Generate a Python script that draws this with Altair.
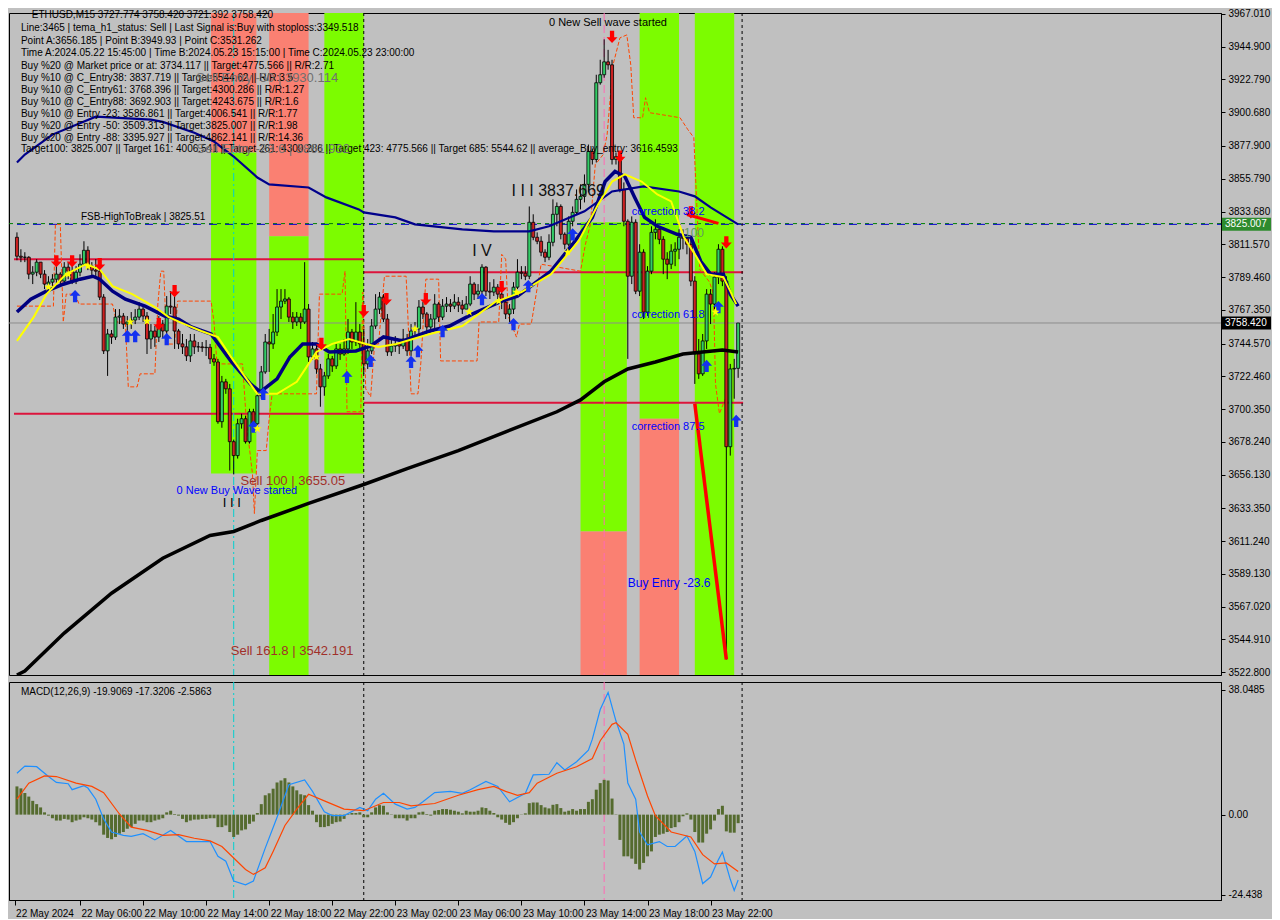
import altair as alt
import pandas as pd

FONT = "Liberation Sans"
BG = "#C0C0C0"
GREEN = "#7CFC00"
SALMON = "#FA8072"
BULL = "#33CC66"
BEAR = "#CC2222"

# ---------------- candle data (M15, bar index 0 = 22 May 02:00) ----------------
first_open = 3816.3
closes = [
    3803.5, 3802.8, 3802.8, 3791.4, 3792.7, 3799.5, 3791.4, 3784.7, 3786.0, 3788.0,
    3791.4, 3786.7, 3796.1, 3793.4, 3786.7, 3792.7, 3798.1, 3807.5, 3796.8, 3794.1,
    3793.4, 3775.9, 3739.6, 3751.0, 3748.9, 3762.4, 3763.1, 3757.7, 3759.1, 3760.4,
    3762.4, 3767.8, 3763.1, 3747.6, 3753.0, 3748.9, 3757.7, 3753.0, 3769.8, 3769.2,
    3753.0, 3744.3, 3742.3, 3736.2, 3746.3, 3742.3, 3742.3, 3741.8, 3742.0, 3734.2,
    3732.1, 3691.8, 3718.7, 3714.0, 3678.3, 3668.9, 3690.4, 3693.8, 3678.3, 3698.5,
    3690.4, 3709.3, 3725.4, 3745.6, 3744.3, 3752.3, 3769.2, 3773.2, 3774.6, 3762.4,
    3759.1, 3762.4, 3759.1, 3767.8, 3735.5, 3740.9, 3727.4, 3715.3, 3722.7, 3734.2,
    3729.4, 3740.9, 3737.5, 3740.9, 3752.3, 3745.6, 3752.3, 3744.3, 3730.8, 3739.6,
    3756.4, 3767.8, 3775.9, 3761.1, 3738.9, 3742.9, 3744.3, 3742.9, 3747.6, 3739.6,
    3753.0, 3754.4, 3769.2, 3764.5, 3755.7, 3761.1, 3771.2, 3762.4, 3769.8, 3771.2,
    3769.8, 3772.5, 3770.5, 3767.8, 3771.2, 3784.7, 3777.9, 3779.9, 3796.1, 3779.9,
    3779.3, 3782.6, 3777.9, 3772.5, 3764.5, 3767.8, 3782.6, 3792.7, 3792.0, 3790.0,
    3826.4, 3816.3, 3813.6, 3806.2, 3802.8, 3812.9, 3831.8, 3837.1, 3818.3, 3811.6,
    3827.1, 3833.1, 3841.9, 3843.9, 3852.0, 3874.2, 3868.8, 3920.6, 3926.0, 3934.7,
    3932.7, 3868.8, 3870.8, 3848.6, 3827.1, 3790.0, 3826.4, 3779.9, 3806.2, 3765.8,
    3793.4, 3819.6, 3821.7, 3814.9, 3801.5, 3798.1, 3806.9, 3808.2, 3816.3, 3815.6,
    3811.6, 3786.7, 3737.5, 3724.1, 3746.3, 3777.9, 3771.2, 3789.4, 3808.2, 3786.7,
    3674.9, 3727.4, 3727.8, 3758.4,
]
highs = [
    3819.6, 3808.2, 3806.2, 3803.5, 3796.8, 3801.5, 3799.5, 3794.1, 3790.0, 3791.4,
    3796.8, 3792.7, 3799.5, 3799.5, 3796.8, 3796.8, 3804.8, 3813.6, 3810.2, 3799.5,
    3801.5, 3794.8, 3777.9, 3754.4, 3753.7, 3767.8, 3767.8, 3765.1, 3763.1, 3765.8,
    3767.8, 3772.5, 3771.2, 3765.8, 3757.7, 3756.4, 3763.1, 3760.4, 3776.6, 3779.9,
    3777.9, 3754.4, 3751.0, 3747.6, 3751.0, 3751.0, 3745.6, 3745.6, 3746.9, 3744.3,
    3737.5, 3734.2, 3722.7, 3720.7, 3717.3, 3679.7, 3693.8, 3697.2, 3695.8, 3700.5,
    3700.5, 3714.0, 3729.4, 3751.0, 3754.4, 3764.5, 3781.3, 3781.3, 3781.3, 3775.9,
    3765.8, 3765.8, 3765.1, 3799.5, 3771.2, 3745.6, 3744.3, 3730.8, 3725.4, 3737.5,
    3736.2, 3744.3, 3744.3, 3747.6, 3761.1, 3754.4, 3772.5, 3757.7, 3754.4, 3747.6,
    3761.1, 3777.9, 3779.3, 3777.9, 3764.5, 3747.6, 3749.6, 3747.6, 3754.4, 3751.0,
    3757.7, 3759.1, 3773.9, 3772.5, 3765.8, 3764.5, 3777.9, 3772.5, 3774.6, 3775.9,
    3774.6, 3777.9, 3775.9, 3773.9, 3776.6, 3790.0, 3786.0, 3784.7, 3798.1, 3796.8,
    3786.0, 3788.0, 3784.7, 3779.3, 3773.9, 3771.2, 3786.0, 3801.5, 3796.8, 3796.8,
    3837.1, 3831.8, 3819.6, 3817.0, 3808.2, 3818.3, 3841.9, 3839.8, 3838.5, 3819.6,
    3830.4, 3837.1, 3848.6, 3852.0, 3858.7, 3878.9, 3876.2, 3926.0, 3936.1, 3949.9,
    3942.8, 3936.1, 3873.5, 3865.4, 3853.3, 3828.4, 3830.4, 3828.4, 3811.6, 3808.2,
    3796.8, 3823.7, 3828.4, 3823.7, 3817.0, 3806.2, 3811.6, 3812.9, 3821.7, 3821.7,
    3818.3, 3814.3, 3790.0, 3747.6, 3751.0, 3781.3, 3781.3, 3792.7, 3811.6, 3810.2,
    3790.0, 3730.8, 3734.2, 3758.4,
]
lows = [
    3800.8, 3799.5, 3799.5, 3788.0, 3784.7, 3790.0, 3788.7, 3781.3, 3782.6, 3783.3,
    3783.3, 3783.3, 3784.7, 3788.0, 3784.7, 3784.7, 3790.0, 3796.8, 3794.1, 3790.0,
    3788.7, 3773.9, 3737.5, 3722.7, 3744.3, 3747.0, 3757.7, 3754.4, 3752.3, 3754.4,
    3757.7, 3760.4, 3759.1, 3737.5, 3740.9, 3742.3, 3745.6, 3748.3, 3751.0, 3764.5,
    3740.9, 3740.9, 3737.5, 3732.8, 3732.1, 3737.5, 3738.9, 3738.9, 3736.2, 3730.8,
    3729.5, 3690.4, 3687.7, 3710.6, 3658.8, 3656.2, 3666.9, 3687.1, 3677.0, 3677.0,
    3687.1, 3689.1, 3707.3, 3724.1, 3725.4, 3740.9, 3749.6, 3761.1, 3771.2, 3759.1,
    3754.4, 3756.4, 3754.4, 3757.7, 3732.1, 3733.5, 3724.1, 3701.9, 3709.3, 3720.7,
    3725.4, 3727.4, 3733.5, 3736.2, 3737.5, 3740.9, 3742.9, 3740.9, 3724.1, 3727.4,
    3737.5, 3754.4, 3764.5, 3759.1, 3736.2, 3736.2, 3738.9, 3737.5, 3740.9, 3736.2,
    3736.2, 3747.6, 3751.0, 3761.1, 3752.3, 3751.0, 3754.4, 3759.1, 3760.4, 3765.8,
    3765.8, 3767.8, 3765.8, 3764.5, 3767.8, 3769.8, 3773.9, 3774.6, 3777.9, 3776.6,
    3774.6, 3776.6, 3774.6, 3767.8, 3761.1, 3759.1, 3764.5, 3781.3, 3788.0, 3787.3,
    3788.0, 3814.3, 3811.6, 3803.5, 3799.5, 3800.8, 3810.2, 3823.7, 3814.9, 3808.2,
    3810.2, 3823.7, 3831.8, 3835.1, 3839.8, 3846.6, 3865.4, 3866.8, 3919.3, 3924.0,
    3929.4, 3865.4, 3865.4, 3846.6, 3823.7, 3734.2, 3784.7, 3777.9, 3776.6, 3761.1,
    3763.1, 3791.4, 3814.9, 3811.6, 3791.4, 3788.0, 3794.8, 3796.8, 3801.5, 3808.2,
    3804.8, 3783.3, 3717.3, 3720.7, 3722.7, 3740.9, 3757.7, 3767.8, 3784.7, 3783.3,
    3531.3, 3668.9, 3707.3, 3721.4,
]

# ---------------- moving averages / indicator lines (bar index, price) ----------------
navy_fast_x = [0, 3.5, 7.5, 11.75, 16, 19.25, 21, 24.25, 27.5, 32.5, 37.5, 41, 44.25, 49.25, 54.25,
               59.25, 61.75, 66, 69.25, 72.5, 76, 79.25, 86, 89.75, 93, 98, 104.75, 109.75, 115.5,
               123, 127, 135.5, 141, 146, 149.25, 151.75, 154.25, 156.75, 159.25, 162.5, 167.5,
               171, 173.5, 176, 179.25, 181, 183]
navy_fast_p = [3765.8, 3774.5, 3779.9, 3784.6, 3788.0, 3790.0, 3788.0, 3779.9, 3774.5, 3769.8,
               3763.1, 3761.1, 3755.7, 3751.0, 3732.8, 3717.3, 3711.9, 3720.7, 3735.5, 3744.3,
               3744.3, 3738.9, 3739.5, 3742.9, 3749.0, 3746.3, 3753.0, 3756.4, 3764.4, 3773.2,
               3776.6, 3793.4, 3811.6, 3829.7, 3853.9, 3860.7, 3857.3, 3843.2, 3829.7, 3823.7,
               3818.3, 3816.3, 3800.1, 3791.4, 3791.4, 3777.9, 3769.8]

navy_slow_x = [0, 2, 9, 20, 34, 37, 45, 50, 55, 61, 64, 74, 78.5, 86.75, 88, 96, 101, 113, 121,
               130, 135, 144, 151, 159, 168, 172, 176, 183]
navy_slow_p = [3866.7, 3872.1, 3885.6, 3897.7, 3895.7, 3894.2, 3886.9, 3880.9, 3870.8, 3856.6,
               3852.0, 3849.9, 3843.2, 3835.1, 3833.1, 3829.7, 3825.0, 3821.6, 3820.3, 3820.3,
               3823.7, 3833.8, 3847.2, 3850.6, 3847.2, 3843.9, 3836.5, 3825.0]

ma200_x = [0, 2, 12, 24, 37, 49, 55, 62, 74, 88, 99, 112, 124, 137, 143, 149, 155, 162, 169,
           174, 179, 183]
ma200_p = [3520.8, 3523.5, 3549.1, 3576.0, 3599.6, 3615.0, 3617.7, 3625.1, 3636.6, 3649.4,
           3660.1, 3672.2, 3685.0, 3698.5, 3706.5, 3718.7, 3727.4, 3732.1, 3737.5, 3738.9,
           3740.2, 3738.9]

yellow_x = [0, 4.25, 7.5, 12.5, 17.5, 21, 24.25, 29.25, 35, 38.5, 42.5, 46.75, 51, 55, 61, 66,
            71, 73.5, 76, 80, 84.25, 88.5, 91.75, 96.25, 104.75, 113, 121.25, 128, 135.5, 142.5,
            147.5, 151, 154.25, 158.5, 162.5, 166, 169.25, 172.5, 175, 179.25, 181, 182.5]
yellow_p = [3746.3, 3762.4, 3777.9, 3791.4, 3798.1, 3794.7, 3783.3, 3777.9, 3769.2, 3762.4,
            3757.7, 3753.0, 3748.9, 3732.8, 3710.6, 3710.6, 3718.7, 3728.8, 3738.9, 3744.3,
            3747.6, 3744.3, 3742.2, 3744.3, 3751.0, 3756.4, 3772.5, 3779.2, 3791.4, 3813.6,
            3838.5, 3853.9, 3858.7, 3853.9, 3845.2, 3840.5, 3816.3, 3802.8, 3791.4, 3789.3,
            3779.9, 3771.2]

orange_x = [0, 9.25, 9.75, 11, 11.75, 12.5, 14.75, 15.75, 24.25, 25.25, 27.5, 28.25, 30.5, 31.25,
            35, 35.75, 36.5, 37.25, 38, 40, 40.75, 49.25, 50, 50.75, 57.25, 58.25, 59.75, 60.25,
            61, 63.25, 64, 64.75, 76, 76.75, 82.5, 83.25, 83.75, 87.25, 87.75, 88.5, 89.75,
            90.75, 91.75, 93.25, 98.75, 99.5, 100, 101.75, 102.5, 103.75, 107, 107.5, 116.75,
            117.25, 122.25, 123, 124, 124.75, 126.75, 127.5, 130.5, 133, 143, 144.25, 145.5,
            146.75, 148.75, 149.75, 151.25, 153, 154.75, 155.75, 156.5, 158.75, 159.5, 160.5,
            168.25, 170.25, 171.75, 172.5, 173.25, 175.75, 176.75, 177.25, 178.25, 179.75]
orange_p = [3769.8, 3769.8, 3825.0, 3825.0, 3759.1, 3777.9, 3777.9, 3771.2, 3771.2, 3759.1,
            3759.1, 3715.3, 3715.3, 3724.1, 3724.1, 3771.2, 3793.4, 3793.4, 3744.2, 3744.2,
            3773.2, 3773.2, 3759.1, 3730.8, 3730.8, 3690.4, 3656.8, 3629.8, 3672.3, 3672.3,
            3693.8, 3710.6, 3710.6, 3777.9, 3777.9, 3793.4, 3698.5, 3698.5, 3779.2, 3714.0,
            3708.6, 3744.2, 3744.2, 3790.0, 3790.0, 3744.2, 3710.6, 3710.6, 3732.1, 3788.0,
            3788.0, 3732.8, 3732.8, 3759.1, 3759.1, 3804.8, 3801.5, 3762.4, 3748.9, 3757.7,
            3757.7, 3798.1, 3793.4, 3811.6, 3825.0, 3865.4, 3872.1, 3885.6, 3932.7, 3950.9,
            3952.9, 3932.7, 3897.0, 3897.0, 3910.5, 3900.4, 3897.0, 3888.9, 3883.6, 3838.5,
            3794.7, 3786.0, 3777.9, 3717.3, 3697.2, 3707.2]

# red wave line and red correction segment
wave_x = [172, 180]
wave_p = [3703.9, 3531.3]
corr_x = [170, 178]
corr_p = [3831.7, 3825.7]

# ---------------- bands, levels, markers ----------------
band_x0 = [49.25, 49.25, 64, 64, 78, 143, 143, 158, 158, 172]
band_x1 = [60.75, 60.75, 74, 74, 88, 154.75, 154.75, 168, 168, 182]
band_top = [3967.68, 3873.5, 3967.68, 3816.9, 3967.68, 3826.4, 3617.7, 3967.68, 3693.8, 3967.68]
band_bot = [3873.5, 3656.8, 3816.9, 3520.8, 3656.8, 3617.7, 3520.8, 3693.8, 3520.8, 3520.8]
band_col = [SALMON, GREEN, SALMON, GREEN, GREEN, GREEN, SALMON, GREEN, SALMON, GREEN]

level_x0 = [-0.75, -0.75, 88, 88]
level_x1 = [88, 88, 184.25, 184.25]
level_p = [3801.5, 3697.1, 3792.7, 3704.5]

current_price = 3758.42
fsb_level = 3825.51
target_level = 3825.007

separators = [88, 184]
time_a = [55]
time_b = [149]

down_x = [10, 14, 21, 36, 40, 77.25, 88, 93.75, 103.75, 123, 151, 153, 171, 180]
down_p = [3800.1, 3800.1, 3798.1, 3757.7, 3779.9, 3744.3, 3766.5, 3774.5, 3774.5, 3782.6,
          3951.5, 3870.8, 3833.1, 3812.9]
up_x = [14.75, 28, 30, 38, 60, 62.5, 83.75, 89.75, 100, 101.75, 108, 118, 126, 129.75, 141,
        175, 178, 182.5]
up_p = [3776.6, 3749.6, 3749.6, 3747.6, 3688.4, 3710.6, 3722.0, 3732.8, 3732.1, 3739.5,
        3753.0, 3774.5, 3757.7, 3783.3, 3818.3, 3729.4, 3769.2, 3692.4]
star_x = [8, 13, 18, 28.75, 33, 61, 76, 101, 114.75, 122.25, 126.75, 139.75, 177.25]
star_p = [3782.6, 3791.4, 3796.8, 3759.1, 3759.7, 3687.0, 3735.5, 3754.3, 3765.8, 3773.2,
          3779.2, 3806.2, 3765.8]

# ---------------- texts ----------------
info_lines = [
    "ETHUSD,M15  3727.774 3758.420 3721.392 3758.420",
    "Line:3465 | tema_h1_status: Sell | Last Signal is:Buy with stoploss:3349.518",
    "Point A:3656.185 | Point B:3949.93 | Point C:3531.262",
    "Time A:2024.05.22 15:45:00 | Time B:2024.05.23 15:15:00 | Time C:2024.05.23 23:00:00",
    "Buy %20 @ Market price or at: 3734.117 || Target:4775.566 || R/R:2.71",
    "Buy %10 @ C_Entry38: 3837.719 || Target:5544.62 || R/R:3.5",
    "Buy %10 @ C_Entry61: 3768.396 || Target:4300.286 || R/R:1.27",
    "Buy %10 @ C_Entry88: 3692.903 || Target:4243.675 || R/R:1.6",
    "Buy %10 @ Entry -23: 3586.861 || Target:4006.541 || R/R:1.77",
    "Buy %20 @ Entry -50: 3509.313 || Target:3825.007 || R/R:1.98",
    "Buy %20 @ Entry -88: 3395.927 || Target:4862.141 || R/R:14.36",
    "Target100: 3825.007 || Target 161: 4006.541 || Target 261: 4300.286 || Target 423: 4775.566 || Target 685: 5544.62 || average_Buy_entry: 3616.4593",
]
info_x = [3.75, 1, 1, 1, 1, 1, 1, 1, 1, 1, 1, 1]
info_p = [3966.2, 3957.5, 3948.7, 3940.6, 3931.9, 3923.8, 3915.7, 3907.7, 3899.6, 3891.5,
          3883.4, 3876.0]

gray_texts = ["Sell Entry -50 | 3930.114", "Sell Entry -23.6 | 3861.932"]
gray_x = [45.5, 45.5]
gray_p = [3923.8, 3876.0]

plain_texts = ["FSB-HighToBreak | 3825.51", "0 New Sell wave started", "I  I  I"]
plain_x = [16.25, 135, 52.25]
plain_p = [3829.7, 3961.0, 3637.2]
plain_size = [10, 11, 13]

wave_texts = ["I I I  3837.669", "I V"]
wave_tx = [125.5, 115.5]
wave_tp = [3847.2, 3806.8]

blue_texts = ["correction 38.2", "correction 61.8", "correction 87.5", "Buy Entry -23.6",
              "0 New Buy Wave started"]
blue_x = [156, 156, 156, 155, 40.5]
blue_p = [3833.1, 3763.8, 3688.4, 3582.7, 3645.3]
blue_size = [11, 11, 11, 12, 11]

brown_texts = ["Sell 100 | 3655.05", "Sell 161.8 | 3542.191"]
brown_x = [56.75, 54.25]
brown_p = [3652.0, 3537.0]

price_ticks = [3967.010, 3944.900, 3922.790, 3900.680, 3877.900, 3855.790, 3833.680, 3811.570,
               3789.460, 3767.350, 3744.570, 3722.460, 3700.350, 3678.240, 3656.130, 3633.350,
               3611.240, 3589.130, 3567.020, 3544.910, 3522.800]
box_prices = [3825.007, 3758.420]
box_labels = ["3825.007", "3758.420"]
box_colors = ["#2E8B2E", "#000000"]

# ---------------- MACD ----------------
macd_hist = [
    8.6, 8.0, 6.6, 5.5, 4.2, 3.2, 2.2, 0.7, -0.3, -1.1,
    -1.8, -1.8, -1.3, -1.5, -2.3, -1.8, -1.5, -0.8, -1.1, -1.5,
    -2.3, -3.3, -6.1, -7.1, -7.5, -6.8, -5.8, -5.3, -4.3, -3.8,
    -2.8, -1.8, -1.8, -2.3, -2.3, -1.8, -1.5, -1.1, 0.7, 1.2,
    0.2, -0.3, -1.3, -2.3, -1.8, -1.5, -1.5, -1.3, -1.3, -1.1,
    -1.1, -3.8, -3.8, -3.3, -5.3, -6.8, -6.1, -4.8, -4.5, -2.8,
    -2.1, 0.5, 3.2, 5.9, 6.5, 7.9, 9.8, 10.4, 11.1, 9.8,
    8.6, 7.4, 6.2, 5.9, 2.9, 1.2, -2.3, -3.8, -3.8, -3.5,
    -2.8, -2.3, -2.1, -1.3, 0.2, 0.5, 0.5, 0.7, -0.8, -0.8,
    0.7, 2.2, 2.9, 2.7, 0.7, -0.1, -1.1, -1.1, -1.1, -1.8,
    -1.1, -1.1, 0.7, 0.9, 0.2, -0.3, 1.2, 1.4, 1.7, 1.7,
    1.5, 1.2, 0.9, 0.4, 1.2, 0.9, 0.9, 1.2, 2.2, 2.0,
    1.2, 0.5, -0.8, -1.5, -2.5, -3.1, -2.3, -1.1, -0.1, 0.4,
    3.5, 3.7, 3.7, 2.9, 2.2, 1.9, 3.0, 3.2, 2.0, 0.9,
    1.2, 1.7, 1.2, 1.7, 1.7, 3.9, 4.7, 7.6, 9.6, 10.6,
    10.4, 4.9, -0.1, -7.7, -12.7, -12.7, -13.4, -15.0, -16.7, -14.7,
    -12.7, -11.2, -6.8, -6.1, -5.8, -5.3, -4.1, -3.8, -2.3, -0.5,
    0.4, -1.5, -5.3, -8.5, -8.5, -5.8, -4.5, -1.8, 1.7, 2.7,
    -5.1, -5.5, -5.5, -2.6,
]
macd_x = [0, 2, 5, 8, 10, 13, 14, 17, 18, 20, 22, 24, 27, 29, 32, 35, 39, 43, 49, 51, 53, 55,
          58, 60, 63, 66, 69, 73, 75, 78, 80, 83, 87, 89, 91, 93, 96, 99, 101, 103, 106, 110,
          113, 115, 119, 122, 125, 129, 131, 135, 137, 139, 142, 145, 146, 148, 150, 152, 154,
          155, 157, 158, 160, 163, 165, 167, 170, 172, 174, 176, 178, 179, 181, 182, 183]
macd_v = [12.6, 14.8, 14.6, 11.6, 9.8, 9.4, 7.6, 8.8, 8.1, 4.7, -1.3, -5.3, -6.3, -6.6, -5.8,
          -7.7, -4.8, -8.2, -8.2, -12.7, -14.2, -20.2, -21.4, -20.2, -10.2, -0.8, 9.1, 10.6,
          7.1, 0.9, -0.3, -0.3, 2.2, 1.2, 4.7, 6.5, 3.2, 1.7, 2.2, 3.9, 6.7, 7.1, 6.5, 7.6,
          10.1, 8.6, 3.9, 6.5, 12.1, 12.3, 15.8, 13.6, 16.1, 19.6, 23.0, 32.0, 37.2, 28.5,
          21.5, 9.6, 4.7, -5.3, -9.2, -8.2, -9.7, -9.7, -6.5, -11.2, -21.0, -19.0, -13.7,
          -11.4, -19.7, -23.1, -19.9]
signal_x = [0, 3, 7, 10, 15, 19, 22, 26, 29, 33, 37, 41, 45, 49, 52, 55, 58, 60, 63, 65, 68,
            71, 74, 78, 83, 88, 93, 97, 100, 106, 112, 117, 121, 124, 127, 130, 132, 137, 142,
            146, 148, 151, 152, 155, 157, 160, 162, 166, 171, 174, 177, 180, 183]
signal_v = [4.7, 9.6, 11.8, 11.6, 9.6, 8.6, 6.7, 0.2, -3.8, -4.8, -6.3, -6.1, -7.2, -8.0, -9.7,
            -13.2, -16.7, -18.2, -16.2, -11.2, -3.3, 1.7, 6.2, 4.2, 1.7, 1.2, 3.7, 3.7, 2.7,
            3.4, 5.9, 7.6, 8.6, 7.1, 5.9, 6.7, 9.6, 12.6, 14.6, 17.1, 22.5, 27.5, 28.0, 24.5,
            16.6, 5.7, -0.3, -5.3, -6.8, -12.2, -15.0, -14.7, -17.3]
macd_title = "MACD(12,26,9) -19.9069 -17.3206 -2.5863"
macd_ticks = [38.0485, 0.0, -24.438]

time_tick_vals = [-0.6, 16, 32, 48, 64, 80, 96, 112, 128, 144, 160, 176]
time_tick_labels = ["22 May 2024", "22 May 06:00", "22 May 10:00", "22 May 14:00",
                    "22 May 18:00", "22 May 22:00", "23 May 02:00", "23 May 06:00",
                    "23 May 10:00", "23 May 14:00", "23 May 18:00", "23 May 22:00"]

# ---------------- chart ----------------
W = 1212
H_MAIN = 662
H_MACD = 218
xs = alt.Scale(domain=[-0.75, 304.25], nice=False, zero=False)
ps = alt.Scale(domain=[3520.8, 3967.68], nice=False, zero=False)
ms = alt.Scale(domain=[-26.0, 40.4], nice=False, zero=False)

DOWN = "M-0.35,-1L0.35,-1L0.35,0.05L0.9,0.05L0,1L-0.9,0.05L-0.35,0.05Z"
UP = "M-0.35,1L0.35,1L0.35,-0.05L0.9,-0.05L0,-1L-0.9,-0.05L-0.35,-0.05Z"
STAR = ("M0,-1L0.24,-0.33L0.95,-0.31L0.38,0.12L0.59,0.81L0,0.4L-0.59,0.81"
        "L-0.38,0.12L-0.95,-0.31L-0.24,-0.33Z")

price_axis = alt.Axis(orient="right", values=price_ticks, format=".3f", title=None, grid=False,
                      labelFont=FONT, labelFontSize=10, labelColor="black", tickColor="black",
                      domainColor="black", tickSize=4, labelPadding=3, labelOverlap=False,
                      labelBound=False, labelFlush=False)
labels_js = "[" + ",".join(f"'{s}'" for s in time_tick_labels) + "]"
time_axis = alt.Axis(orient="bottom", values=time_tick_vals, title=None, grid=False,
                     labelExpr=f"{labels_js}[datum.value < 0 ? 0 : round(datum.value / 16)]",
                     labelAlign="left", labelBaseline="top", labelPadding=3, labelOffset=1,
                     labelFont=FONT, labelFontSize=10, labelColor="black", tickColor="black",
                     domainColor="black", tickSize=5, labelOverlap=False, labelBound=False,
                     labelFlush=False)
macd_axis = alt.Axis(orient="right", values=macd_ticks, title=None, grid=False,
                     labelExpr="datum.value == 0 ? '0.00' : '' + datum.value",
                     labelFont=FONT, labelFontSize=10, labelColor="black", tickColor="black",
                     domainColor="black", tickSize=4, labelPadding=3, labelOverlap=False,
                     labelBound=False, labelFlush=False)


def XM(field="x"):
    return alt.X(f"{field}:Q", scale=xs, axis=None)


def XT(field="x"):
    return alt.X(f"{field}:Q", scale=xs, axis=time_axis)


def P(field="p"):
    return alt.Y(f"{field}:Q", scale=ps, axis=price_axis)


def M(field="v"):
    return alt.Y(f"{field}:Q", scale=ms, axis=macd_axis)


bands_df = pd.DataFrame({"x0": band_x0, "x1": band_x1, "p0": band_top, "p1": band_bot,
                         "col": band_col})
bands = alt.Chart(bands_df).mark_rect(clip=True).encode(
    x=XM("x0"), x2="x1", y=P("p0"), y2="p1", color=alt.Color("col:N", scale=None))

levels = alt.Chart(pd.DataFrame({"x0": level_x0, "x1": level_x1, "p": level_p})).mark_rule(
    color="#DC143C", strokeWidth=2).encode(x=XM("x0"), x2="x1", y=P())

price_line = alt.Chart(pd.DataFrame({"p": [current_price]})).mark_rule(
    color="#8C8C8C", strokeWidth=1).encode(y=P())
fsb_line = alt.Chart(pd.DataFrame({"p": [fsb_level]})).mark_rule(
    color="#008000", strokeWidth=1, strokeDash=[4, 4]).encode(y=P())
tgt_line = alt.Chart(pd.DataFrame({"p": [target_level]})).mark_rule(
    color="#0000CD", strokeWidth=1, strokeDash=[8, 8], strokeDashOffset=4).encode(y=P())


def vlines(xenc):
    sep = alt.Chart(pd.DataFrame({"x": separators})).mark_rule(
        color="black", strokeWidth=1, strokeDash=[3, 3]).encode(x=xenc())
    ca = alt.Chart(pd.DataFrame({"x": time_a})).mark_rule(
        color="#00D0D0", strokeWidth=1, strokeDash=[8, 3, 2, 3]).encode(x=xenc())
    cb = alt.Chart(pd.DataFrame({"x": time_b})).mark_rule(
        color="#FF69B4", strokeWidth=1, strokeDash=[8, 4]).encode(x=xenc())
    return [sep, ca, cb]


orange = alt.Chart(pd.DataFrame({"x": orange_x, "p": orange_p})).mark_line(
    color="#FF4500", strokeWidth=1, strokeDash=[4, 2], clip=True).encode(
    x=XM(), y=P(), order="x:Q")

opens = [first_open] + closes[:-1]
cdf = pd.DataFrame({"x": list(range(len(closes))), "o": opens, "c": closes, "h": highs,
                    "l": lows})
wicks = alt.Chart(cdf).transform_calculate(
    hi="max(datum.h, datum.o, datum.c)", lo="min(datum.l, datum.o, datum.c)").mark_rule(
    color="black", strokeWidth=1).encode(x=XM(), y=P("lo"), y2="hi:Q")
bodies = alt.Chart(cdf).mark_bar(size=3, stroke="black", strokeWidth=0.8).encode(
    x=XM(), y=P("o"), y2="c:Q",
    color=alt.condition("datum.c >= datum.o", alt.value(BULL), alt.value(BEAR)))


def line(xv, pv, color, width):
    return alt.Chart(pd.DataFrame({"x": xv, "p": pv})).mark_line(
        color=color, strokeWidth=width, clip=True).encode(x=XM(), y=P(), order="x:Q")


ma200 = line(ma200_x, ma200_p, "black", 3.5)
navy_slow = line(navy_slow_x, navy_slow_p, "#00008B", 2.2)
navy_fast = line(navy_fast_x, navy_fast_p, "#000080", 3.5)
yellow = line(yellow_x, yellow_p, "#FFFF00", 2)
wave = line(wave_x, wave_p, "#FF0000", 3.5)
corr = line(corr_x, corr_p, "#FF0000", 3)

downs = alt.Chart(pd.DataFrame({"x": down_x, "p": down_p})).mark_point(
    shape=DOWN, filled=True, size=150, color="#FF0000", opacity=1, strokeWidth=0).encode(
    x=XM(), y=P())
ups = alt.Chart(pd.DataFrame({"x": up_x, "p": up_p})).mark_point(
    shape=UP, filled=True, size=150, color="#1432F0", opacity=1, strokeWidth=0).encode(
    x=XM(), y=P())
stars = alt.Chart(pd.DataFrame({"x": star_x, "p": star_p})).mark_point(
    shape=STAR, filled=True, size=80, color="#FFFF00", opacity=1, strokeWidth=0).encode(
    x=XM(), y=P())


def texts(tv, xv, pv, color, size, sizes=None):
    df = pd.DataFrame({"x": xv, "p": pv, "t": tv})
    if sizes is not None:
        df["s"] = sizes
        return alt.Chart(df).mark_text(align="left", baseline="middle", font=FONT,
                                       color=color).encode(
            x=XM(), y=P(), text="t:N", size=alt.Size("s:Q", scale=None, legend=None))
    return alt.Chart(df).mark_text(align="left", baseline="middle", font=FONT, fontSize=size,
                                   color=color).encode(x=XM(), y=P(), text="t:N")


info = texts(info_lines, info_x, info_p, "black", 10)
gray = texts(gray_texts, gray_x, gray_p, "#707070", 13)
plain = texts(plain_texts, plain_x, plain_p, "black", 10, plain_size)
wav = texts(wave_texts, wave_tx, wave_tp, "#111111", 16)
blu = texts(blue_texts, blue_x, blue_p, "#0000FF", 11, blue_size)
brn = texts(brown_texts, brown_x, brown_p, "#A0302A", 13)
hundred = texts(["100"], [169.25], [3818.9], "#5F9A5F", 12)

box_df = pd.DataFrame({"p": box_prices, "t": box_labels, "col": box_colors})
boxes = alt.Chart(box_df).transform_calculate(
    top="datum.p + 4.4", bot="datum.p - 4.4").mark_rect().encode(
    x=alt.value(W + 1), x2=alt.value(W + 50), y=P("top"), y2="bot:Q",
    color=alt.Color("col:N", scale=None))
box_txt = alt.Chart(box_df).mark_text(align="left", baseline="middle", font=FONT, fontSize=10,
                                      color="white").encode(
    x=alt.value(W + 4), y=P(), text="t:N")

main = alt.layer(
    bands, levels, price_line, fsb_line, tgt_line, *vlines(XM), orange, wicks, bodies,
    ma200, navy_slow, navy_fast, yellow, wave, corr, downs, ups, stars,
    info, gray, plain, wav, blu, brn, hundred, boxes, box_txt,
).properties(width=W, height=H_MAIN)

# MACD panel
hdf = pd.DataFrame({"x": list(range(len(macd_hist))), "v": macd_hist})
hist = alt.Chart(hdf).mark_bar(size=3, color="#556B2F").encode(
    x=XT(), y=M(), y2=alt.datum(0))
macd_line = alt.Chart(pd.DataFrame({"x": macd_x, "v": macd_v})).mark_line(
    color="#1E90FF", strokeWidth=1.2).encode(x=XT(), y=M(), order="x:Q")
sig_line = alt.Chart(pd.DataFrame({"x": signal_x, "v": signal_v})).mark_line(
    color="#FF4500", strokeWidth=1.2).encode(x=XT(), y=M(), order="x:Q")
macd_lbl = alt.Chart(pd.DataFrame({"x": [1], "v": [37.3], "t": [macd_title]})).mark_text(
    align="left", baseline="middle", font=FONT, fontSize=10, color="black").encode(
    x=XT(), y=M(), text="t:N")

macd = alt.layer(*vlines(XT), hist, macd_line, sig_line, macd_lbl).properties(
    width=W, height=H_MACD)

chart = alt.vconcat(main, macd, spacing=3).properties(
    padding=0, background=BG).configure_view(fill=BG, stroke="black", strokeWidth=1)

chart.save("out.html", embed_options={"renderer": "svg", "actions": False})
